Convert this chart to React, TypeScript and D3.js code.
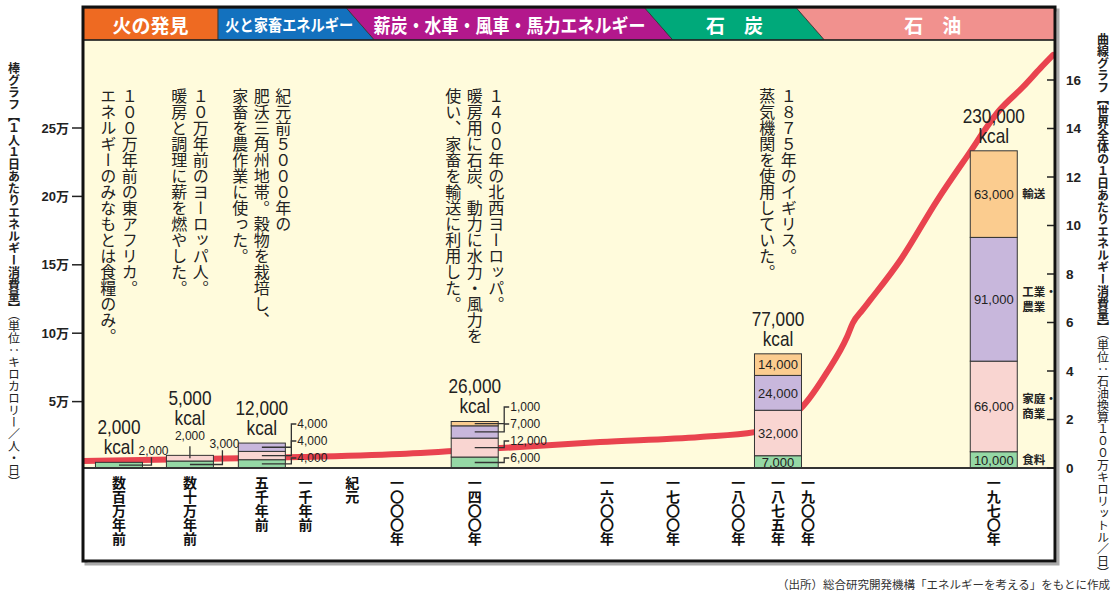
import React from 'react';
import * as d3 from 'd3';

// ---------- data ----------
const categories = ['数百万年前', '数十万年前', '五千年前', '一千年前', '紀元', '一〇〇〇年', '一四〇〇年', '一六〇〇年', '一七〇〇年', '一八〇〇年', '一八七五年', '一九〇〇年', '一九七〇年'];
// position of each category along the (non-linear) time axis, % of axis width
const categoryPos = [3.7, 11.0, 18.4, 22.9, 27.7, 32.3, 40.3, 53.9, 60.7, 67.4, 71.5, 74.6, 93.7];

const barCategories = ['数百万年前', '数十万年前', '五千年前', '一四〇〇年', '一八七五年', '一九七〇年'];
const barTotals = ['2,000', '5,000', '12,000', '26,000', '77,000', '230,000'];
const food = [2000, 3000, 4000, 6000, 7000, 10000];
const home = [0, 2000, 4000, 12000, 32000, 66000];
const industry = [0, 0, 4000, 7000, 24000, 91000];
const transport = [0, 0, 0, 1000, 14000, 63000];
const sectorNames = [['食料'], ['家庭・', '商業'], ['工業・', '農業'], ['輸送']];
const sectorColors = ['#95D8A5', '#F9D5D1', '#C8B7DC', '#FBCC8F'];
const labelInside = [false, false, false, false, true, true];
const labelTopAbove = [false, true, false, false, false, false];
const showSectorNames = [false, false, false, false, false, true];

// world energy curve (right axis, 100万kl oil eq. per day)
const curvePos = [0, 12.0, 22.3, 32.6, 42.9, 53.2, 63.5, 69.1, 74.0, 76.5, 78.6, 79.2, 80.2, 81.0, 84.1, 87.9, 90.9, 94.3, 96.7, 98.5, 99.8];
const curveValue = [0.29, 0.37, 0.45, 0.58, 0.82, 1.07, 1.28, 1.48, 2.52, 3.92, 5.40, 5.98, 6.52, 6.93, 8.58, 11.05, 12.82, 14.76, 15.71, 16.49, 17.03];

const leftTickValues = [50000, 100000, 150000, 200000, 250000];
const leftTickLabels = ['5万', '10万', '15万', '20万', '25万'];
const rightTickValues = [0, 2, 4, 6, 8, 10, 12, 14, 16];

const eraNames = ['火の発見', '火と家畜エネルギー', '薪炭・水車・風車・馬力エネルギー', '石　炭', '石　油'];
const eraColors = ['#EE6A22', '#1371BE', '#B3188C', '#00A97A', '#F1918E'];
const eraEndPct = [13.9, 27.1, 57.8, 73.4, 100];
const eraEdgeSlanted = [false, true, true, true];

const notes = [
  { cat: '数百万年前', lines: ['１００万年前の東アフリカ。', 'エネルギーのみなもとは食糧のみ。'] },
  { cat: '数十万年前', lines: ['１０万年前のヨーロッパ人。', '暖房と調理に薪を燃やした。'] },
  { cat: '五千年前', lines: ['紀元前５０００年の', '肥沃三角州地帯。穀物を栽培し、', '家畜を農作業に使った。'] },
  { cat: '一四〇〇年', lines: ['１４００年の北西ヨーロッパ。', '暖房用に石炭、動力に水力・風力を', '使い、家畜を輸送に利用した。'] },
  { cat: '一八七五年', lines: ['１８７５年のイギリス。', '蒸気機関を使用していた。'] },
];

const leftTitleBold = '棒グラフ【１人１日あたりエネルギー消費量】';
const leftTitleRest = '（単位：キロカロリー／人・日）';
const rightTitleBold = '曲線グラフ【世界全体の１日あたりエネルギー消費量】';
const rightTitleRest = '（単位：石油換算１００万キロリットル／日）';
const sourceText = '（出所）総合研究開発機構「エネルギーを考える」をもとに作成';

// ---------- layout / style ----------
const W = 1116, H = 599;
const frame = { left: 83, top: 7, right: 1055, bottom: 561 };
const bandTop = 8, bandBottom = 40, baseY = 468;
const barW = 47;
const barScale = 0.97;
const segPad = 3;
const slant = 28;
const fontJP = "'Noto Sans CJK JP', 'Noto Sans', sans-serif";
const fontArial = "'Liberation Sans', Arial, 'Noto Sans CJK JP', sans-serif";
const vert: React.CSSProperties = { writingMode: 'vertical-rl' as any };

function Narrow({ x, y, children }: { x: number; y: number; children: React.ReactNode }) {
  return (
    <text transform={`translate(${x},${y}) scale(0.82,1)`} textAnchor="middle" fontFamily={fontArial} fontSize={21} fill="#222">{children}</text>
  );
}

export default function App() {
  const xPct = d3.scaleLinear().domain([0, 100]).range([frame.left, frame.right]);
  const yL = d3.scaleLinear().domain([0, 250000]).range([470, 128]);
  const yR = d3.scaleLinear().domain([0, 16]).range([baseY, 80]);
  const hOf = (v: number) => (yL(0) - yL(v)) * barScale + segPad;
  const catX = (c: string) => xPct(categoryPos[categories.indexOf(c)]);

  const sectorValues = [food, home, industry, transport];
  const bars = barCategories.map((cat, i) => {
    const cx = catX(cat);
    let y = baseY;
    const segs = sectorValues
      .map((arr, s) => ({ s, v: arr[i] }))
      .filter(d => d.v > 0)
      .map(d => {
        const h = hOf(d.v);
        const seg = { ...d, y0: y, y1: y - h };
        y -= h;
        return seg;
      });
    return { i, cat, cx, segs, top: y };
  });

  const line = d3.line<number>()
    .x((_, i) => xPct(curvePos[i]))
    .y(d => yR(d))
    .curve(d3.curveMonotoneX);

  const eraPolys = eraNames.map((name, i) => {
    const lt = i === 0 ? frame.left : xPct(eraEndPct[i - 1]);
    const lb = i === 0 ? frame.left : lt + (eraEdgeSlanted[i - 1] ? slant : 0);
    const rt = xPct(eraEndPct[i]);
    const rb = i === eraNames.length - 1 ? rt : rt + (eraEdgeSlanted[i] ? slant : 0);
    return { name, color: eraColors[i], pts: [[lt, bandTop], [rt, bandTop], [rb, bandBottom], [lb, bandBottom]], cx: (lt + lb + rt + rb) / 4 };
  });
  const fmt = d3.format(',');

  return (
    <svg width={W} height={H} style={{ position: 'absolute', left: 0, top: 0, background: '#fff' }}>
      <defs>
        <clipPath id="plotClip">
          <rect x={frame.left} y={bandBottom} width={frame.right - frame.left} height={baseY - bandBottom} />
        </clipPath>
      </defs>
      <rect x={frame.left + 3} y={frame.top + 3} width={frame.right - frame.left} height={frame.bottom - frame.top} fill="none" stroke="#aaa" strokeWidth={3} />
      <rect x={frame.left} y={frame.top} width={frame.right - frame.left} height={frame.bottom - frame.top} fill="#fff" />
      <rect x={frame.left} y={bandBottom} width={frame.right - frame.left} height={baseY - bandBottom} fill="#FFFBDC" />

      {/* era bands */}
      {eraPolys.map((e, i) => (
        <g key={i}>
          <polygon points={e.pts.map(p => p.join(',')).join(' ')} fill={e.color} stroke="#333" strokeWidth={0.8} />
          <text x={e.cx} y={bandTop + 16} textAnchor="middle" dominantBaseline="central" fill="#fff"
            fontFamily={fontJP} fontWeight={700} fontSize={i === 1 ? 16 : 19}
            {...(i === 1 ? { textLength: 128, lengthAdjust: 'spacingAndGlyphs' } : {})}
            {...(i === 2 ? { textLength: 272, lengthAdjust: 'spacingAndGlyphs' } : {})}>{e.name}</text>
        </g>
      ))}
      <line x1={frame.left} x2={frame.right} y1={bandBottom} y2={bandBottom} stroke="#222" strokeWidth={1.5} />

      {/* annotations */}
      {notes.map((n, k) => {
        const cx = catX(n.cat);
        return n.lines.map((t, j) => (
          <text key={k + '-' + j} x={cx + ((n.lines.length - 1) / 2 - j) * 21.5} y={88} style={vert}
            fontFamily={fontJP} fontSize={16} fill="#222">{t}</text>
        ));
      })}

      {/* curve */}
      <g clipPath="url(#plotClip)">
        <path d={line(curveValue) || ''} fill="none" stroke="#E9434F" strokeWidth={6} strokeLinecap="round" />
      </g>

      {/* bars */}
      {bars.map(b => {
        const xl = b.cx - barW / 2, xr = b.cx + barW / 2;
        const above = labelTopAbove[b.i];
        const rightSegs = labelInside[b.i] ? [] : b.segs.filter((_, j) => !(above && j === b.segs.length - 1));
        const topSeg = b.segs[b.segs.length - 1];
        const kcalY = b.top - 8 - (above ? 22 : 0);
        return (
          <g key={b.i}>
            {b.segs.map((sg, j) => (
              <rect key={j} x={xl} y={sg.y1} width={barW} height={sg.y0 - sg.y1} fill={sectorColors[sg.s]} stroke="#333" strokeWidth={1} />
            ))}
            {rightSegs.map((sg, j) => {
              let ly = baseY - 10 - j * 17;
              if (j === rightSegs.length - 1) ly = Math.min(ly, b.top - 12);
              const mid = (sg.y0 + sg.y1) / 2;
              const single = rightSegs.length === 1;
              const d = single
                ? `M${b.cx},${mid}H${xr + 9}V${ly + 7}`
                : `M${b.cx},${mid}H${xr + 6}V${ly}H${xr + 11}`;
              return (
                <g key={'r' + j}>
                  <path d={d} fill="none" stroke="#333" strokeWidth={1.3} />
                  <text x={single ? xr - 4 : xr + 12} y={ly} dy="0.35em" fontFamily={fontArial} fontSize={12} fill="#222">{fmt(sg.v)}</text>
                </g>
              );
            })}
            {above && (
              <g>
                <path d={`M${b.cx},${(topSeg.y0 + topSeg.y1) / 2}V${b.top - 9}`} stroke="#333" strokeWidth={1.3} />
                <text x={b.cx} y={b.top - 15} textAnchor="middle" fontFamily={fontArial} fontSize={12} fill="#222">{fmt(topSeg.v)}</text>
              </g>
            )}
            {labelInside[b.i] && b.segs.map((sg, j) => (
              <text key={'i' + j} x={b.cx} y={(sg.y0 + sg.y1) / 2} dy="0.36em" textAnchor="middle" fontFamily={fontArial} fontSize={13} fill="#222">{fmt(sg.v)}</text>
            ))}
            {showSectorNames[b.i] && b.segs.map((sg, j) => {
              const names = sectorNames[sg.s];
              const mid = (sg.y0 + sg.y1) / 2;
              return names.map((nm, q) => (
                <text key={'n' + j + q} x={xr + 5} y={mid + (q - (names.length - 1) / 2) * 15} dy="0.36em" fontFamily={fontJP} fontWeight={700} fontSize={11.5} fill="#222">{nm}</text>
              ));
            })}
            <Narrow x={b.cx} y={kcalY - 20}>{barTotals[b.i]}</Narrow>
            <Narrow x={b.cx} y={kcalY}>kcal</Narrow>
          </g>
        );
      })}

      <line x1={frame.left} x2={frame.right} y1={baseY} y2={baseY} stroke="#333" strokeWidth={2} />

      {/* category labels */}
      {categories.map((c, i) => (
        <text key={c} x={xPct(categoryPos[i])} y={476} style={vert} fontFamily={fontJP} fontWeight={700} fontSize={14} fill="#111">{c}</text>
      ))}

      {/* left axis */}
      {leftTickValues.map((v, i) => (
        <g key={v}>
          <line x1={72} x2={frame.left} y1={yL(v)} y2={yL(v)} stroke="#222" strokeWidth={1.5} />
          <text x={69} y={yL(v)} dy="0.35em" textAnchor="end" fontFamily={fontArial} fontWeight={700} fontSize={13} fill="#222">{leftTickLabels[i]}</text>
        </g>
      ))}
      {/* right axis */}
      {rightTickValues.map(v => (
        <g key={v}>
          <line x1={frame.right - 8} x2={frame.right} y1={yR(v)} y2={yR(v)} stroke="#222" strokeWidth={1.5} />
          <text x={frame.right + 11} y={yR(v)} dy="0.35em" fontFamily={fontArial} fontWeight={700} fontSize={13.5} fill="#222">{v}</text>
        </g>
      ))}

      <rect x={frame.left} y={frame.top} width={frame.right - frame.left} height={frame.bottom - frame.top} fill="none" stroke="#111" strokeWidth={3} />

      {/* axis titles */}
      <text x={14} y={62} style={vert} fontFamily={fontJP} fontSize={12} fill="#222">
        <tspan fontWeight={700}>{leftTitleBold}</tspan><tspan>{leftTitleRest}</tspan>
      </text>
      <text x={1103} y={33} style={vert} fontFamily={fontJP} fontSize={12} fill="#222">
        <tspan fontWeight={700}>{rightTitleBold}</tspan><tspan>{rightTitleRest}</tspan>
      </text>

      <text x={1110} y={589} textAnchor="end" fontFamily={fontJP} fontSize={11.5} fill="#333">{sourceText}</text>
    </svg>
  );
}
